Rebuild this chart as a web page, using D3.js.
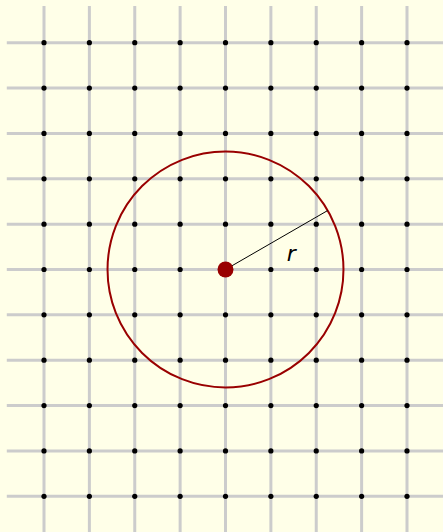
<!DOCTYPE html>
<html>
<head>
<meta charset="utf-8">
<script src="https://cdn.jsdelivr.net/npm/d3@7"></script>
<style>
  body { margin: 0; background: #ffffe8; }
  svg { display: block; }
</style>
</head>
<body>
<div class="graph-container"></div>
<script>
// grid positions (in grid units)
const cols = [0, 1, 2, 3, 4, 5, 6, 7, 8];
const rows = [0, 1, 2, 3, 4, 5, 6, 7, 8, 9, 10];
const gridExtentX = [-0.82, 8.8];
const gridExtentY = [-0.81, 10.8];
// circle: centre, radius and the angle of the drawn radius (degrees)
const centre = [4, 5];
const radius = 2.6;
const radiusAngle = 30;
const label = 'r';

const width = 443, height = 532;

const x = d3.scaleLinear().domain([0, 8]).range([44, 407]);
const y = d3.scaleLinear().domain([0, 10]).range([42.7, 496.3]);
const unit = x(1) - x(0);

const svg = d3.select('div.graph-container')
    .append('svg')
    .attr('width', width)
    .attr('height', height);

svg.append('rect')
    .attr('width', width)
    .attr('height', height)
    .attr('fill', '#ffffe8');

// grid lines
svg.append('g')
    .selectAll('line')
    .data(cols)
    .enter()
    .append('line')
    .attr('x1', d => x(d))
    .attr('x2', d => x(d))
    .attr('y1', y(gridExtentY[0]))
    .attr('y2', y(gridExtentY[1]))
    .attr('stroke', '#cccccc')
    .attr('stroke-width', 3);

svg.append('g')
    .selectAll('line')
    .data(rows)
    .enter()
    .append('line')
    .attr('y1', d => y(d))
    .attr('y2', d => y(d))
    .attr('x1', x(gridExtentX[0]))
    .attr('x2', x(gridExtentX[1]))
    .attr('stroke', '#cccccc')
    .attr('stroke-width', 3);

// dots at every intersection
const points = d3.cross(cols, rows);
svg.append('g')
    .selectAll('circle')
    .data(points)
    .enter()
    .append('circle')
    .attr('cx', d => x(d[0]))
    .attr('cy', d => y(d[1]))
    .attr('r', 2.6)
    .attr('fill', '#000');

// the circle
svg.append('circle')
    .attr('cx', x(centre[0]))
    .attr('cy', y(centre[1]))
    .attr('r', radius * unit)
    .attr('fill', 'none')
    .attr('stroke', '#990000')
    .attr('stroke-width', 2);

// radius line
const a = radiusAngle * Math.PI / 180;
const end = [centre[0] + radius * Math.cos(a), centre[1] - radius * Math.sin(a)];
svg.append('line')
    .attr('x1', x(centre[0]))
    .attr('y1', y(centre[1]))
    .attr('x2', x(end[0]))
    .attr('y2', y(end[1]))
    .attr('stroke', '#000')
    .attr('stroke-width', 1);

svg.append('circle')
    .attr('cx', x(centre[0]))
    .attr('cy', y(centre[1]))
    .attr('r', 8)
    .attr('fill', '#990000');

svg.append('text')
    .attr('x', x(centre[0] + 1.45))
    .attr('y', y(centre[1] - 0.18))
    .attr('text-anchor', 'middle')
    .attr('font-family', 'DejaVu Sans, sans-serif')
    .attr('font-style', 'italic')
    .attr('font-size', 22)
    .attr('fill', '#000')
    .text(label);
</script>
</body>
</html>
